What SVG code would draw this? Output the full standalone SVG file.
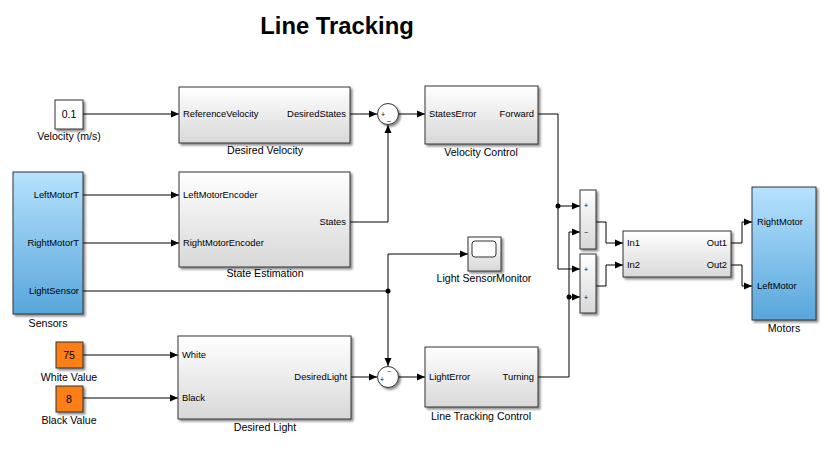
<svg xmlns="http://www.w3.org/2000/svg" width="828" height="455" viewBox="0 0 828 455">
<defs>
<linearGradient id="gw" x1="0" y1="0" x2="0" y2="1"><stop offset="0" stop-color="#ffffff"/><stop offset="1" stop-color="#d8d8d8"/></linearGradient>
<linearGradient id="gb" x1="0" y1="0" x2="0" y2="1"><stop offset="0" stop-color="#b6e2fe"/><stop offset="1" stop-color="#58a6db"/></linearGradient>
<filter id="sh" x="-10%" y="-10%" width="130%" height="130%"><feDropShadow dx="2" dy="2" stdDeviation="1.2" flood-color="#000" flood-opacity="0.45"/></filter>
<marker id="ar" markerUnits="userSpaceOnUse" markerWidth="9" markerHeight="8" refX="8" refY="4" orient="auto"><path d="M0,0.5 L8,4 L0,7.5 z" fill="#000"/></marker>
<style>
text{font-family:"Liberation Sans",Arial,sans-serif;fill:#000}
.blk{fill:url(#gw);stroke:#333;stroke-width:1;filter:url(#sh)}
.blu{fill:url(#gb);stroke:#333;stroke-width:1;filter:url(#sh)}
.org{fill:#fb7f12;stroke:#333;stroke-width:1;filter:url(#sh)}
.cst{fill:#fff;stroke:#333;stroke-width:1;filter:url(#sh)}
.p{font-size:9.4px}
.pr{font-size:9.4px;text-anchor:end}
.lbl{font-size:10.6px;text-anchor:middle}
.v{font-size:10.5px;text-anchor:middle}
.s{font-size:7px;text-anchor:middle}
.w{fill:none;stroke:#000;stroke-width:1}
.a{marker-end:url(#ar)}
</style>
</defs>
<rect width="828" height="455" fill="#fff"/>
<text x="337" y="34" font-size="23.8" font-weight="bold" text-anchor="middle">Line Tracking</text>

<g id="connectors">
<path class="w a" d="M83,114 H179"/>
<path class="w a" d="M350,114 H377"/>
<path class="w a" d="M398,114 H425"/>
<path class="w a" d="M350,222 H388 V125"/>
<path class="w a" d="M83,195 H179"/>
<path class="w a" d="M83,243 H179"/>
<path class="w" d="M83,291 H388"/>
<path class="w a" d="M388,291 V254 H468"/>
<path class="w a" d="M388,291 V366"/>
<path class="w a" d="M83,355 H178"/>
<path class="w a" d="M83,398 H178"/>
<path class="w a" d="M351,377 H377"/>
<path class="w a" d="M398,377 H425"/>
<path class="w a" d="M538,114 H558 V269 H580"/>
<path class="w a" d="M558,206 H580"/>
<path class="w a" d="M538,377 H569 V232 H580"/>
<path class="w a" d="M569,297 H580"/>
<path class="w a" d="M596,222 H606 V243 H623"/>
<path class="w a" d="M596,286 H606 V265 H623"/>
<path class="w a" d="M731,243 H742 V222 H752"/>
<path class="w a" d="M731,265 H742 V286 H752"/>
<circle cx="558" cy="206" r="2.5"/>
<circle cx="569" cy="297" r="2.5"/>
<circle cx="388" cy="291" r="2.5"/>
</g>

<g id="velocity">
<rect class="cst" x="55" y="100" width="28" height="29"/>
<text class="v" x="69" y="118">0.1</text>
<text class="lbl" x="69" y="140">Velocity (m/s)</text>
</g>

<g id="desired-velocity">
<rect class="blk" x="179" y="87" width="171" height="56"/>
<text class="p" x="183" y="117">ReferenceVelocity</text>
<text class="pr" x="346" y="117">DesiredStates</text>
<text class="lbl" x="265" y="154">Desired Velocity</text>
</g>

<g id="sum1">
<circle cx="388" cy="114" r="10.5" fill="#fff" stroke="#333" filter="url(#sh)"/>
<text class="s" x="383" y="117">+</text>
<text class="s" x="389" y="120">_</text>
</g>

<g id="velocity-control">
<rect class="blk" x="425" y="86" width="113" height="58"/>
<text class="p" x="429" y="117">StatesError</text>
<text class="pr" x="534" y="117">Forward</text>
<text class="lbl" x="481" y="156">Velocity Control</text>
</g>

<g id="sensors">
<rect class="blu" x="13" y="172" width="70" height="142"/>
<text class="pr" x="79" y="198">LeftMotorT</text>
<text class="pr" x="79" y="246">RightMotorT</text>
<text class="pr" x="79" y="294">LightSensor</text>
<text class="lbl" x="48" y="327">Sensors</text>
</g>

<g id="state-estimation">
<rect class="blk" x="179" y="172" width="171" height="95"/>
<text class="p" x="183" y="198">LeftMotorEncoder</text>
<text class="p" x="183" y="246">RightMotorEncoder</text>
<text class="pr" x="346" y="225">States</text>
<text class="lbl" x="265" y="277">State Estimation</text>
</g>

<g id="scope">
<rect class="blk" x="468" y="237" width="33" height="34"/>
<rect x="472" y="241" width="24" height="16" rx="3" fill="#fff" stroke="#333" stroke-width="1"/>
<text class="lbl" x="484" y="282">Light SensorMonitor</text>
</g>

<g id="white-value">
<rect class="org" x="56" y="342" width="27" height="26"/>
<text class="v" x="69" y="359">75</text>
<text class="lbl" x="69" y="381">White Value</text>
</g>

<g id="black-value">
<rect class="org" x="56" y="386" width="27" height="26"/>
<text class="v" x="69" y="403">8</text>
<text class="lbl" x="69" y="424">Black Value</text>
</g>

<g id="desired-light">
<rect class="blk" x="178" y="336" width="173" height="83"/>
<text class="p" x="182" y="358">White</text>
<text class="p" x="182" y="401">Black</text>
<text class="pr" x="347" y="380">DesiredLight</text>
<text class="lbl" x="265" y="431">Desired Light</text>
</g>

<g id="sum2">
<circle cx="388" cy="377" r="10.5" fill="#fff" stroke="#333" filter="url(#sh)"/>
<text class="s" x="389" y="374">−</text>
<text class="s" x="382" y="382">+</text>
</g>

<g id="line-tracking-control">
<rect class="blk" x="425" y="347" width="113" height="60"/>
<text class="p" x="429" y="380">LightError</text>
<text class="pr" x="534" y="380">Turning</text>
<text class="lbl" x="481" y="420">Line Tracking Control</text>
</g>

<g id="sum3">
<rect class="blk" x="580" y="190" width="16" height="59"/>
<text class="s" x="586" y="208">+</text>
<text class="s" x="586" y="235">−</text>
</g>

<g id="sum4">
<rect class="blk" x="580" y="254" width="16" height="59"/>
<text class="s" x="586" y="272">+</text>
<text class="s" x="586" y="300">+</text>
</g>

<g id="mixer">
<rect class="blk" x="623" y="231" width="108" height="46"/>
<text class="p" x="627" y="246">In1</text>
<text class="p" x="627" y="268">In2</text>
<text class="pr" x="727" y="246">Out1</text>
<text class="pr" x="727" y="268">Out2</text>
</g>

<g id="motors">
<rect class="blu" x="752" y="187" width="64" height="133"/>
<text class="p" x="757" y="225">RightMotor</text>
<text class="p" x="757" y="289">LeftMotor</text>
<text class="lbl" x="784" y="332">Motors</text>
</g>
</svg>
